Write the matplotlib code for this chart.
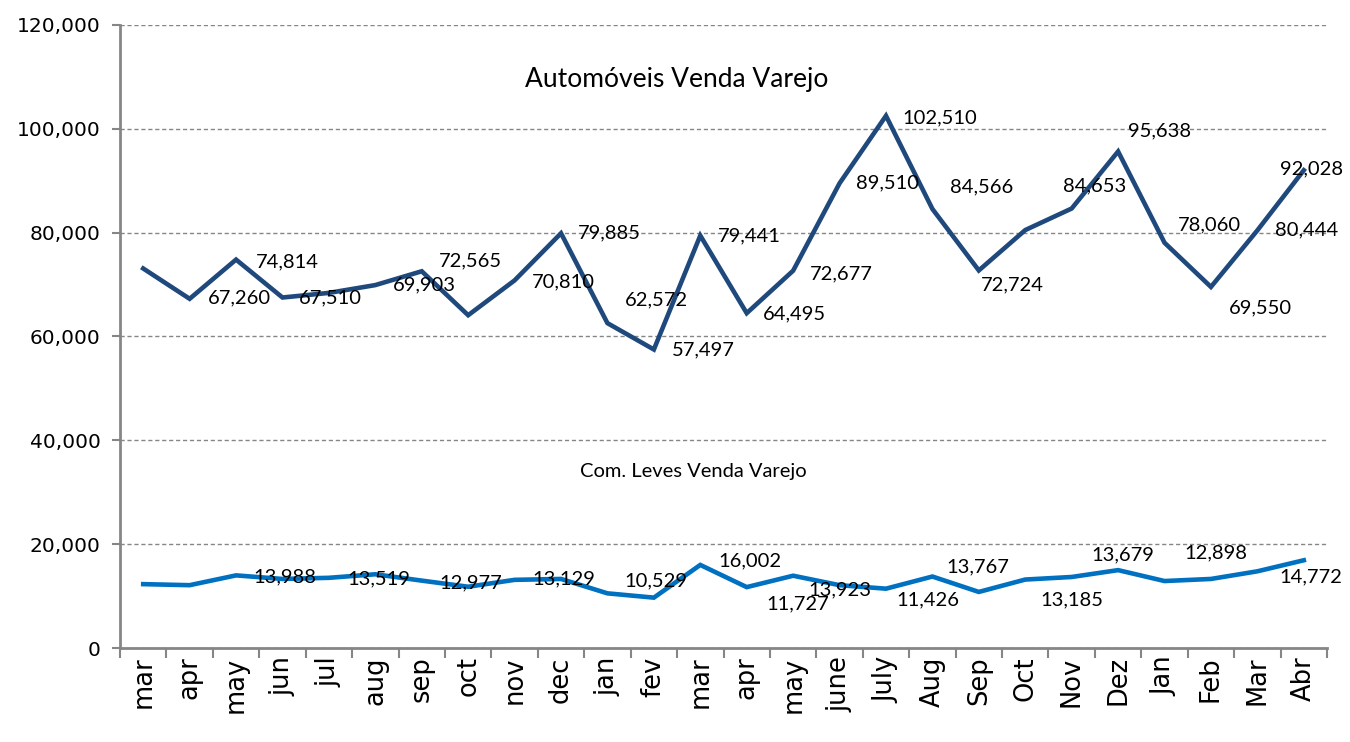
import matplotlib
matplotlib.use("Agg")
import matplotlib.pyplot as plt
from matplotlib.ticker import FuncFormatter, FixedLocator

months = ["mar", "apr", "may", "jun", "jul", "aug", "sep", "oct", "nov", "dec",
          "jan", "fev", "mar", "apr", "may", "june", "July", "Aug", "Sep", "Oct",
          "Nov", "Dez", "Jan", "Feb", "Mar", "Abr"]

# Automoveis venda varejo (unlabelled points estimated from the line)
autos = [73100, 67260, 74814, 67510, 68400, 69903, 72565, 64100, 70810, 79885,
         62572, 57497, 79441, 64495, 72677, 89510, 102510, 84566, 72724, 80500,
         84653, 95638, 78060, 69550, 80444, 92028]

# Comerciais leves venda varejo
leves = [12300, 12100, 13988, 13300, 13519, 14200, 12977, 11800, 13129, 13300,
         10529, 9700, 16002, 11727, 13923, 12100, 11426, 13767, 10800, 13185,
         13679, 15000, 12898, 13300, 14772, 16900]

# which points carry a value label
autos_labelled = [1, 2, 3, 5, 6, 8, 9, 10, 11, 12, 13, 14, 15, 16, 17, 18,
                  20, 21, 22, 23, 24, 25]
leves_labelled = [2, 4, 6, 8, 10, 12, 13, 14, 16, 17, 19, 20, 22, 24]

# label offsets in pixels (right, down) from the point
autos_offsets = [(50, -1), (51, 2), (48, 0), (49, 0), (49, -10), (49, 1), (48, 0),
                 (49, -23), (49, 0), (49, 0), (48, 1), (48, 3), (48, 0), (54, 2),
                 (49, -22), (34, 14), (23, -23), (41, -21), (45, -18), (49, 21),
                 (49, 0), (8, -1)]
leves_offsets = [(49, 1), (50, 1), (49, 2), (49, -1), (48, -12), (50, -4),
                 (51, 17), (47, 14), (42, 11), (45, -10), (47, 20), (51, -22),
                 (51, -28), (53, 6)]

AUTO_COLOR = "#1F497D"
LEVES_COLOR = "#0070C0"
GRAY = "#868686"

fig = plt.figure(figsize=(13.5, 7.42), dpi=100)
ax = fig.add_axes([120 / 1350, 1 - 648 / 742, 1207 / 1350, 623 / 742])

x = list(range(len(months)))
ax.plot(x, autos, color=AUTO_COLOR, linewidth=3.3, solid_joinstyle="miter", zorder=3)
ax.plot(x, leves, color=LEVES_COLOR, linewidth=3.3, solid_joinstyle="miter", zorder=3)

label_font = dict(family=["Lato", "DejaVu Sans"], fontsize=14.5, color="black")
for i, (dx, dy) in zip(autos_labelled, autos_offsets):
    ax.annotate(f"{autos[i]:,}", (i, autos[i]), xytext=(dx, -dy),
                textcoords="offset pixels", ha="center", va="center",
                zorder=4, **label_font)
for i, (dx, dy) in zip(leves_labelled, leves_offsets):
    ax.annotate(f"{leves[i]:,}", (i, leves[i]), xytext=(dx, -dy),
                textcoords="offset pixels", ha="center", va="center",
                zorder=4, **label_font)

ax.text(0.461, 0.912, "Automóveis Venda Varejo", transform=ax.transAxes,
        ha="center", va="center", fontsize=19, family=["Lato", "DejaVu Sans"])
ax.text(0.475, 0.283, "Com. Leves Venda Varejo", transform=ax.transAxes,
        ha="center", va="center", fontsize=14.5, family=["Lato", "DejaVu Sans"])

ax.set_xlim(-0.5, len(months) - 0.5)
ax.set_ylim(0, 120000)
ax.yaxis.set_major_locator(FixedLocator(range(0, 120001, 20000)))
ax.yaxis.set_major_formatter(FuncFormatter(lambda v, p: f"{int(v):,}"))
ax.grid(axis="y", color=GRAY, linestyle=(0, (3, 2)), linewidth=1.0, zorder=0)

# ticks at category boundaries, labels at the centres
ax.xaxis.set_major_locator(FixedLocator([k - 0.5 for k in range(len(months) + 1)]))
ax.xaxis.set_major_formatter(FuncFormatter(lambda v, p: ""))
ax.set_xticks(x, minor=True)
ax.set_xticklabels(months, minor=True, rotation=90, fontsize=18.5,
                   family="DejaVu Sans")
ax.tick_params(axis="x", which="major", length=7, width=1.5, color=GRAY, direction="out")
ax.tick_params(axis="x", which="minor", length=0, pad=6)
ax.tick_params(axis="y", length=6, width=1.5, color=GRAY, direction="out",
               labelsize=14.5, pad=8)
for lbl in ax.get_yticklabels():
    lbl.set_family("DejaVu Sans")

for side in ["top", "right"]:
    ax.spines[side].set_visible(False)
for side in ["left", "bottom"]:
    ax.spines[side].set_color(GRAY)
    ax.spines[side].set_linewidth(2)

fig.savefig("out.png", dpi=100)
